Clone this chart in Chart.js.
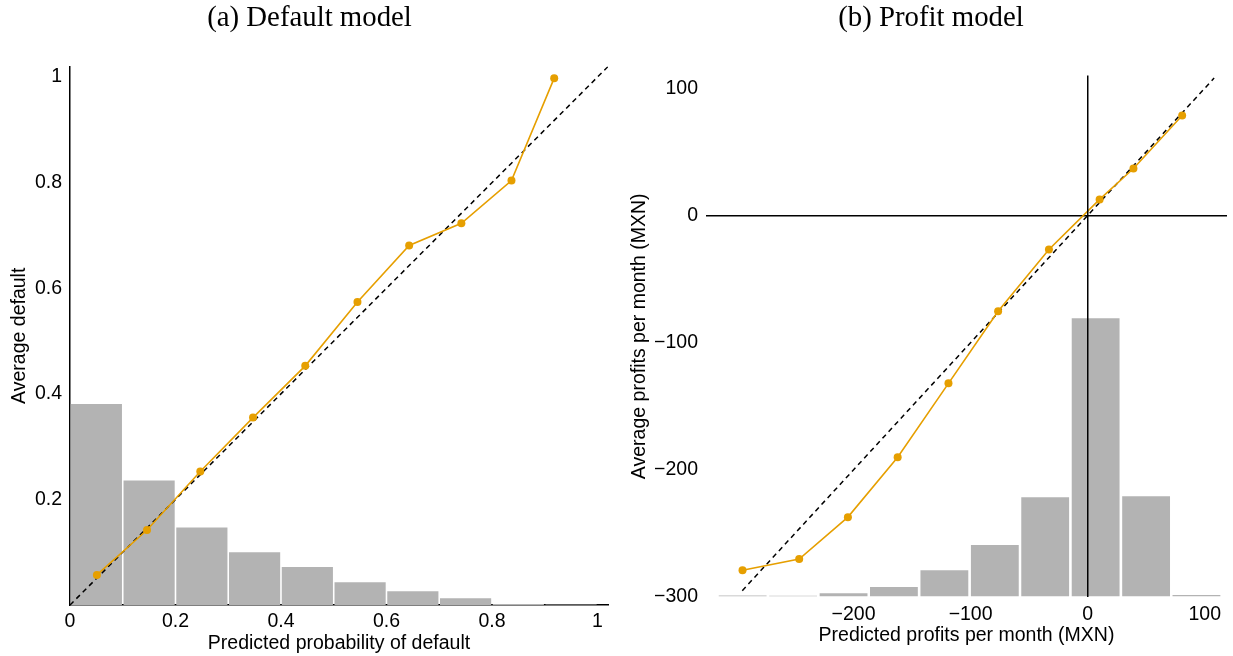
<!DOCTYPE html>
<html lang="en">
  <head>
    <meta charset="UTF-8" />
    <title>Calibration: default and profit models</title>
    <script src="https://cdn.jsdelivr.net/npm/chart.js@4.4.1/dist/chart.umd.min.js"></script>
    <style>
      body {
        margin: 0;
        background: #fff;
        font-family: "Liberation Sans", Arial, sans-serif;
      }
      .panel {
        position: absolute;
        top: 0;
        height: 656px;
      }
      #left { left: 0; width: 619px; }
      #right { left: 628px; width: 605px; }
    </style>
  </head>
  <body>
    <div class="panel" id="left"><canvas id="chartA"></canvas></div>
    <div class="panel" id="right"><canvas id="chartB"></canvas></div>

    <script>
      // (a) Default model
      const binCentersA = [0.05, 0.15, 0.25, 0.35, 0.45, 0.55, 0.65, 0.75, 0.85, 0.95];
      const histA = [0.381, 0.236, 0.147, 0.1, 0.072, 0.043, 0.026, 0.013, 0.002, 0.001];
      const predA = [0.051, 0.146, 0.247, 0.347, 0.446, 0.545, 0.643, 0.742, 0.837, 0.918];
      const avgA = [0.057, 0.142, 0.253, 0.355, 0.453, 0.574, 0.681, 0.723, 0.804, 0.998];
      const diagA = [0, 1.02];
      const xTicksA = [0, 0.2, 0.4, 0.6, 0.8, 1];
      const yTicksA = [0.2, 0.4, 0.6, 0.8, 1];

      // (b) Profit model
      const binCentersB = [-294.7, -251.6, -208.5, -165.5, -122.4, -79.3, -36.3, 6.8, 49.9, 92.9];
      const histB = [-298.9, -299, -297, -292.2, -278.9, -259.2, -221.5, -80.9, -220.7, -298.5];
      const predB = [-294.8, -246.4, -204.8, -162.3, -118.9, -76.5, -33.1, 10.2, 39.1, 80.7];
      const avgB = [-278.9, -270.2, -237.2, -190.1, -132, -75.4, -26.7, 12.6, 36.9, 78.6];
      const diagB = [-295, 108];
      const xTicksB = [-200, -100, 0, 100];
      const yTicksB = [-300, -200, -100, 0, 100];

      const orange = "#E69F00";
      const grey = "#b3b3b3";
      const tickFont = { family: "Liberation Sans", size: 19.5 };
      const titleFont = { family: "Liberation Serif", size: 28.8, weight: "normal" };

      Chart.defaults.color = "#000";
      Chart.defaults.animation = false;

      const minus = (v) => String(v).replace("-", "\u2212");
      const pairs = (xs, ys) => xs.map((x, i) => ({ x: x, y: ys[i] }));

      function makeDatasets(centers, hist, pred, avg, diag, base, catPct) {
        return [
          {
            type: "line",
            data: pairs(pred, avg),
            borderColor: orange,
            backgroundColor: orange,
            borderWidth: 1.6,
            pointRadius: 4,
            pointBorderWidth: 0,
            order: 0,
          },
          {
            type: "line",
            data: pairs(diag, diag),
            borderColor: "#000",
            borderWidth: 1.5,
            borderDash: [5, 4],
            pointRadius: 0,
            order: 1,
          },
          {
            type: "bar",
            data: pairs(centers, hist),
            backgroundColor: grey,
            borderWidth: 0,
            base: base,
            barPercentage: 1,
            categoryPercentage: catPct,
            order: 2,
          },
        ];
      }

      // left panel
      new Chart(document.getElementById("chartA"), {
        type: "bar",
        data: {
          datasets: makeDatasets(binCentersA, histA, predA, avgA, diagA, 0, 0.97),
        },
        options: {
          responsive: true,
          maintainAspectRatio: false,
          layout: { padding: { left: 11, right: 11, top: 0, bottom: 0 } },
          plugins: {
            legend: { display: false },
            tooltip: { enabled: false },
            title: {
              display: true,
              text: "(a) Default model",
              font: titleFont,
              padding: { top: 1, bottom: 31 },
            },
          },
          scales: {
            x: {
              type: "linear",
              min: 0,
              max: 1.02,
              offset: false,
              afterBuildTicks: (s) => { s.ticks = xTicksA.map((v) => ({ value: v })); },
              afterFit: (s) => { s.height = 51; },
              grid: { display: false, drawTicks: false, offset: false },
              border: { display: true, color: "#000", width: 1.5 },
              ticks: { font: tickFont, padding: 5, maxRotation: 0, callback: (v) => String(v) },
              title: {
                display: true,
                text: "Predicted probability of default",
                font: tickFont,
                padding: { top: 0, bottom: 1 },
              },
            },
            y: {
              type: "linear",
              min: 0,
              max: 1.02,
              afterBuildTicks: (s) => { s.ticks = yTicksA.map((v) => ({ value: v })); },
              afterFit: (s) => { s.width = 59; },
              grid: { display: false, drawTicks: false },
              border: { display: true, color: "#000", width: 1.5 },
              ticks: { font: tickFont, padding: 8, callback: (v) => String(v) },
              title: {
                display: true,
                text: "Average default",
                font: tickFont,
                padding: { top: -3, bottom: 0 },
              },
            },
          },
        },
      });

      // right panel
      const zeroLine = (ctx) => (ctx.tick && ctx.tick.value === 0 ? "#000" : "rgba(0,0,0,0)");

      new Chart(document.getElementById("chartB"), {
        type: "bar",
        data: {
          datasets: makeDatasets(binCentersB, histB, predB, avgB, diagB, -300, 0.95),
        },
        options: {
          responsive: true,
          maintainAspectRatio: false,
          layout: { padding: { left: 7, right: 6, top: 0, bottom: 0 } },
          plugins: {
            legend: { display: false },
            tooltip: { enabled: false },
            title: {
              display: true,
              text: "(b) Profit model",
              font: titleFont,
              padding: { top: 1, bottom: 40 },
            },
          },
          scales: {
            x: {
              type: "linear",
              min: -326,
              max: 119,
              offset: false,
              afterBuildTicks: (s) => { s.ticks = xTicksB.map((v) => ({ value: v })); },
              afterFit: (s) => { s.height = 59; },
              grid: { color: zeroLine, lineWidth: 1.5, drawTicks: false, offset: false, z: 1 },
              border: { display: false },
              ticks: { font: tickFont, padding: 6, maxRotation: 0, callback: minus },
              title: {
                display: true,
                text: "Predicted profits per month (MXN)",
                font: tickFont,
                padding: { top: 0, bottom: 9 },
              },
            },
            y: {
              type: "linear",
              min: -300,
              max: 110,
              afterBuildTicks: (s) => { s.ticks = yTicksB.map((v) => ({ value: v })); },
              afterFit: (s) => { s.width = 71; },
              grid: { color: zeroLine, lineWidth: 1.5, drawTicks: false },
              border: { display: false },
              ticks: { font: tickFont, padding: 8, callback: minus },
              title: {
                display: true,
                text: "Average profits per month (MXN)",
                font: tickFont,
                padding: { top: -7, bottom: 0 },
              },
            },
          },
        },
      });
    </script>
  </body>
</html>
